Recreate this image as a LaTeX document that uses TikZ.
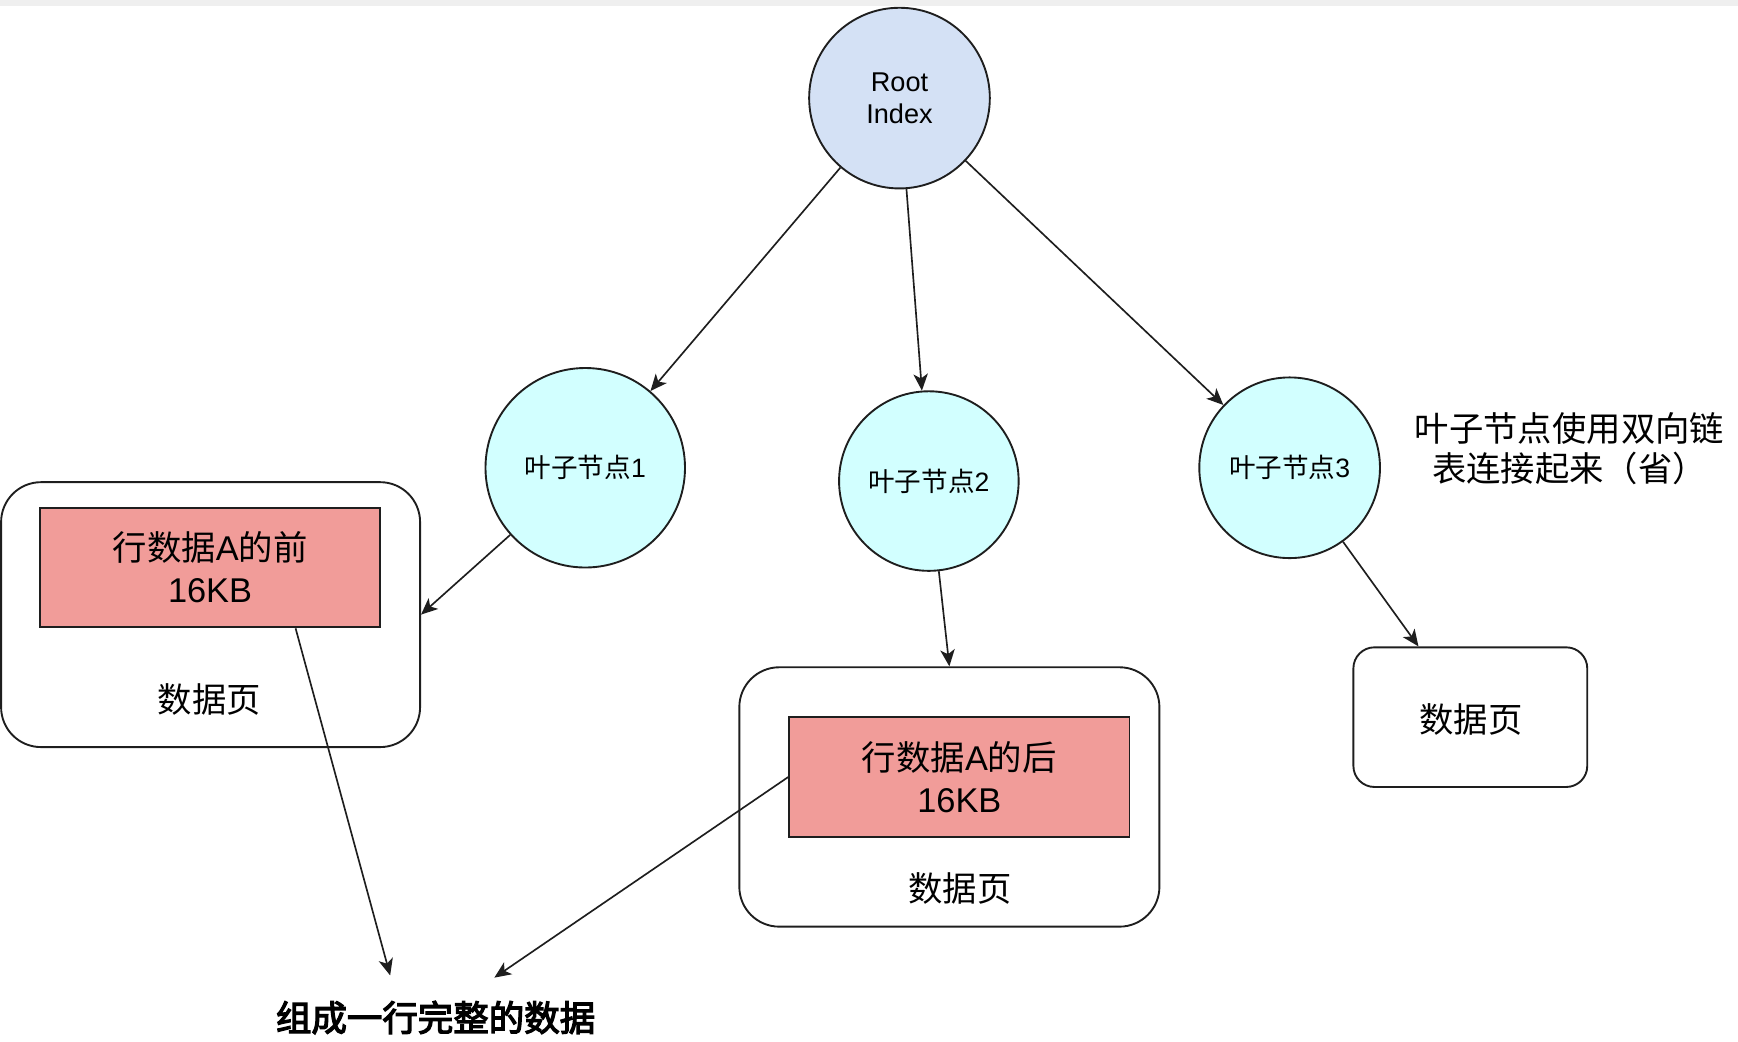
\documentclass[tikz,border=0pt]{standalone}
\usepackage{fontspec}
\setmainfont{Liberation Sans}
\newfontfamily\cjk{Noto Sans CJK SC}
\newfontfamily\cjkbold[FakeBold=3.5]{Noto Sans CJK SC}
\usetikzlibrary{arrows.meta,calc}
\definecolor{rootfill}{HTML}{D4E1F5}
\definecolor{leaffill}{HTML}{D2FFFF}
\definecolor{redfill}{HTML}{F19C99}
\definecolor{linec}{HTML}{1E1E1E}
\definecolor{topband}{HTML}{EFEFEF}
\newcommand\cj[1]{{\cjk #1}}
\begin{document}
\begin{tikzpicture}[x=1pt,y=-1pt,
  circ/.style={circle,draw=linec,line width=1.7pt,inner sep=0pt,align=center},
  pagebox/.style={draw=linec,line width=1.7pt,inner sep=0pt},
  redbox/.style={draw=linec,line width=1.7pt,fill=redfill,inner sep=0pt,align=center,
    font=\fontsize{31}{38}\selectfont},
  lbl/.style={inner sep=0pt,align=center,font=\fontsize{31}{37}\selectfont},
  arr/.style={draw=linec,line width=1.5pt,-{Stealth[length=15pt,width=13pt,inset=4pt]}}
]
\useasboundingbox (0,0) rectangle (1568,940);
\fill[topband] (0,0) rectangle (1568,5);

% circles
\node[circ,fill=rootfill,minimum size=163pt,font=\fontsize{24.5}{29}\selectfont] (root) at (811.5,88.5) {Root\\Index};
\node[circ,fill=leaffill,minimum size=180pt,font=\fontsize{24}{28}\selectfont] (leaf1) at (528,422) {\cj{叶子节点}1};
\node[circ,fill=leaffill,minimum size=162pt,font=\fontsize{24}{28}\selectfont] (leaf2) at (838,434) {\cj{叶子节点}2};
\node[circ,fill=leaffill,minimum size=163pt,font=\fontsize{24}{28}\selectfont] (leaf3) at (1163.5,422) {\cj{叶子节点}3};

% data pages
\node[pagebox,rounded corners=36pt,minimum width=378pt,minimum height=239pt] (box1) at (190,554.5) {};
\node[redbox,minimum width=307pt,minimum height=108pt] (red1) at (189.5,512) {\cj{行数据}A\cj{的前}\\16KB};
\node[lbl] (lab1) at (189,631) {\cj{数据页}};

\node[pagebox,rounded corners=36pt,minimum width=379pt,minimum height=234pt] (box2) at (856.5,719) {};
\node[redbox,minimum width=307pt,minimum height=108pt] (red2) at (865.5,701) {\cj{行数据}A\cj{的后}\\16KB};
\node[lbl] (lab2) at (866,802) {\cj{数据页}};

\node[pagebox,rounded corners=19pt,minimum width=211pt,minimum height=126pt] (box3) at (1326.5,647) {};
\node[lbl] (lab3) at (1327,649) {\cj{数据页}};

% texts
\node[lbl,font=\fontsize{31}{36}\selectfont] (note) at (1416,405) {\cj{叶子节点使用双向链}\\\cj{表连接起来（省）}};
\node[inner sep=0pt,font=\fontsize{32}{38}\selectfont] (result) at (393,918) {\cjkbold 组成一行完整的数据};

\coordinate (e1) at (352,880);
\coordinate (e2) at (446,882);
\coordinate (b3top) at ($(box3.north west)!0.28!(box3.north east)$);
\coordinate (r1bot) at ($(red1.south west)!0.75!(red1.south east)$);

% connectors
\draw[arr] (root) -- (leaf1);
\draw[arr] (root) -- (leaf2);
\draw[arr] (root) -- (leaf3);
\draw[arr] (leaf1) -- (box1.east);
\draw[arr] (leaf2) -- (box2.north);
\draw[arr] (leaf3) -- (b3top);
\draw[arr] (r1bot) -- (e1);
\draw[arr] (red2.west) -- (e2);
\end{tikzpicture}
\end{document}
